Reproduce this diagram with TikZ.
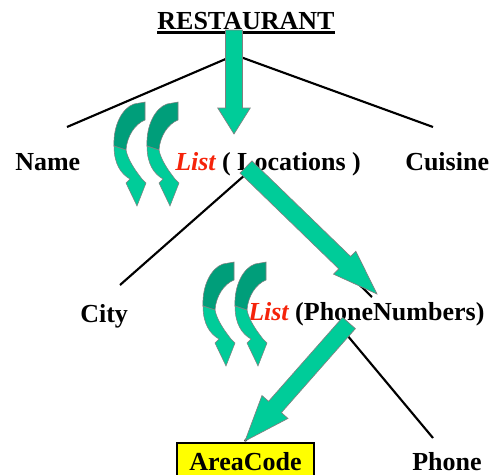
\documentclass[tikz,border=0pt]{standalone}
\usepackage{fontspec}
\setmainfont{Liberation Serif}
\usepackage[svgnames]{xcolor}
\usepackage{tikz}
\usetikzlibrary{calc}

\definecolor{arrowgreen}{RGB}{0,204,153}
\definecolor{arrowdark}{RGB}{0,158,122}
\definecolor{listred}{RGB}{245,35,10}

% block arrow: tail, tip, half shaft, half head, head length
\newcommand{\fatarrow}[5]{%
  \coordinate (fa-base) at ($(#2)!#5!(#1)$);
  \filldraw[fat arrow] ($(#1)!#3!90:(#2)$) -- ($(fa-base)!#3!90:(#2)$)
    -- ($(fa-base)!#4!90:(#2)$) -- (#2)
    -- ($(fa-base)!#4!-90:(#2)$) -- ($(fa-base)!#3!-90:(#2)$)
    -- ($(#1)!#3!-90:(#2)$) -- cycle;}

\begin{document}
\begin{tikzpicture}[x=0.75pt,y=-0.75pt]
\tikzset{
label/.style={ inner sep=0pt , anchor=base west ,
font=\fontsize{19.5}{23}\selectfont\bfseries },
edge/.style={ line width=1.6pt , black },
fat arrow/.style={ fill=arrowgreen , draw=Gray , line width=0.5pt },
curl back/.style={ fill=arrowdark , draw=Gray , line width=0.4pt },
curl front/.style={ fill=arrowgreen , draw=Gray , line width=0.4pt },
curl arrow/.pic={
  \filldraw[curl back] (-11,2) -- (0,0) -- (0,18)
    .. controls (-10,22) and (-18,34) .. (-19,48) -- (-31,44)
    .. controls (-32,24) and (-23,6) .. (-11,2) -- cycle;
  \filldraw[curl front] (-31,44) .. controls (-31,62) and (-24,72) .. (-15,77)
    -- (-19,81) -- (-8,104) -- (1,81) -- (-3,77)
    .. controls (-10,68) and (-17,58) .. (-19,48) -- cycle;
}
}
\clip (0,0) rectangle (494,475);

% nodes
\node[label, anchor=base] (restaurant) at (246,29) {RESTAURANT};
\node[label] (name) at (15,170) {Name};
\node[label] (locations) at (175,170) {\textcolor{listred}{\itshape List} ( Locations )};
\node[label] (cuisine) at (405,170) {Cuisine};
\node[label] (city) at (80,322) {City};
\node[label] (phonenumbers) at (248,320) {\textcolor{listred}{\itshape List} (PhoneNumbers)};
\node[label, anchor=base, fill=Yellow, draw=black, line width=1.1pt,
  minimum width=102.5pt, inner ysep=3pt, text height=17.25pt, text depth=5pt]
  (areacode) at (245.5,470) {AreaCode};
\node[label] (phone) at (412,470) {Phone};

\draw[line width=1.8pt] ([yshift=-2.5pt]restaurant.base west) -- ([yshift=-2.5pt]restaurant.base east);

% tree edges
\coordinate (top-fork) at (235,55);
\coordinate (name-end) at (67,127);
\coordinate (cuisine-end) at (433,127);
\coordinate (loc-top) at (234,130);
\coordinate (loc-fork) at (246,174);
\coordinate (city-end) at (120,285);
\coordinate (pn-top) at (372,297);
\coordinate (pn-fork) at (347,335);
\coordinate (phone-end) at (433,438);
\coordinate (ac-end) at (245,441);

\draw[edge] (name-end) -- (top-fork) -- (cuisine-end);
\draw[edge] (top-fork) -- (loc-top);
\draw[edge] (city-end) -- (loc-fork) -- (pn-top);
\draw[edge] (ac-end) -- (pn-fork) -- (phone-end);

% curled arrows
\pic at (145,102) {curl arrow};
\pic at (178,102) {curl arrow};
\pic at (234,262) {curl arrow};
\pic at (266,262) {curl arrow};

% block arrows
\coordinate (a1-tail) at (234,30);
\coordinate (a1-tip) at (234,134);
\coordinate (a2-tail) at (246,167);
\coordinate (a2-tip) at (377,294);
\coordinate (a3-tail) at (349,323);
\coordinate (a3-tip) at (245,441);
\fatarrow{a1-tail}{a1-tip}{6.4pt}{12.2pt}{19.5pt}
\fatarrow{a2-tail}{a2-tip}{6.4pt}{12pt}{33.75pt}
\fatarrow{a3-tail}{a3-tip}{6.4pt}{13pt}{34pt}

\end{tikzpicture}
\end{document}
